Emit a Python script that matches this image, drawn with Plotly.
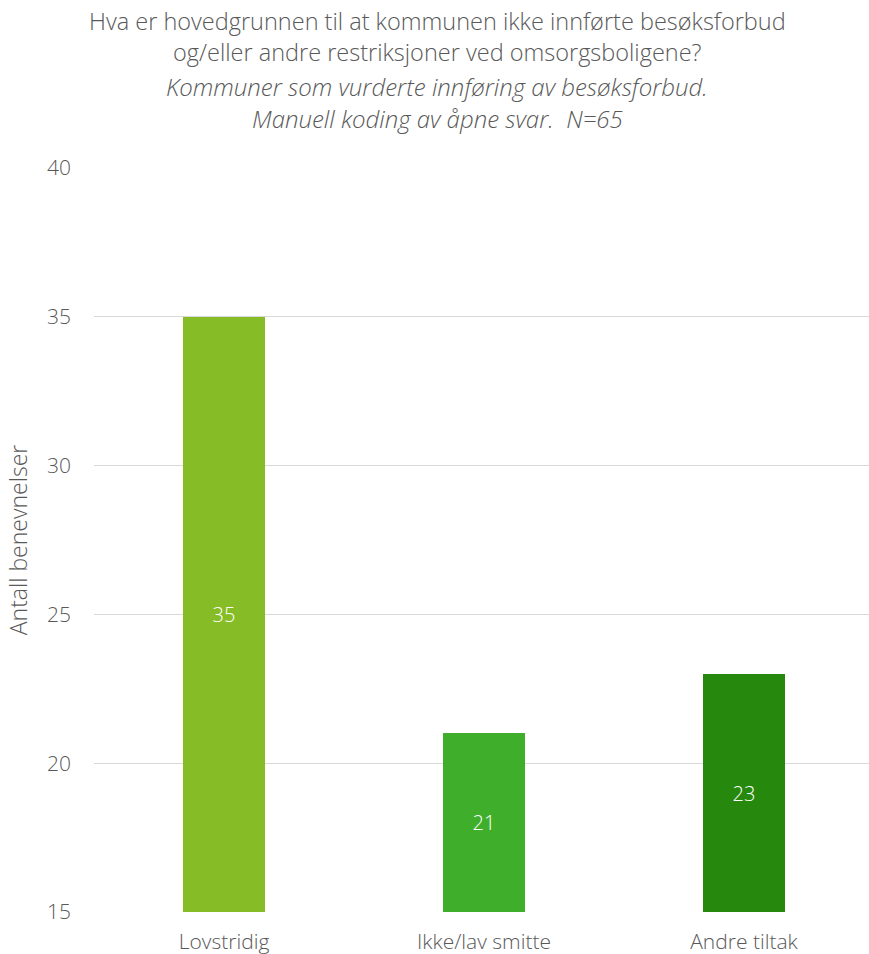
import plotly.graph_objects as go

categories = ["Lovstridig", "Ikke/lav smitte", "Andre tiltak"]
values = [35, 21, 23]
bar_colors = ["#86BC25", "#3FAE2A", "#26890D"]
title_lines = [
    "Hva er hovedgrunnen til at kommunen ikke innførte besøksforbud",
    "og/eller andre restriksjoner ved omsorgsboligene?",
    "<i>Kommuner som vurderte innføring av besøksforbud.</i>",
    "<i>Manuell koding av åpne svar.  N=65</i>",
]
y_ticks = [15, 20, 25, 30, 35, 40]
y_title = "Antall benevnelser"
axis_min, axis_max = 15, 40

FONT = "Open Sans"
WEIGHT = 300
GRAY = "#595959"

W, H = 869, 954
top, bottom, left = 168, 42, 94
plot_h = H - top - bottom

fig = go.Figure()
fig.add_trace(go.Bar(
    x=categories, y=[v - axis_min for v in values], base=axis_min,
    marker_color=bar_colors, marker_line_width=0,
    width=0.315, text=[str(v) for v in values], textposition="inside",
    insidetextanchor="middle", hoverinfo="skip",
    textfont=dict(color="white", size=20, family=FONT, weight=WEIGHT),
))

title_y_px = [21, 52, 86, 118]
title_sizes = [23.5, 23.5, 24, 24]
annotations = []
for line, ypx, fs in zip(title_lines, title_y_px, title_sizes):
    annotations.append(dict(
        text=line, xref="paper", yref="paper",
        x=(437 - left) / (W - left), y=(H - bottom - ypx) / plot_h,
        xanchor="center", yanchor="middle", showarrow=False,
        font=dict(family=FONT, size=fs, color=GRAY, weight=WEIGHT),
    ))

fig.update_layout(
    width=W, height=H,
    margin=dict(l=left, r=0, t=top, b=bottom, pad=0, autoexpand=False),
    plot_bgcolor="white", paper_bgcolor="white",
    showlegend=False, bargap=0,
    font=dict(family=FONT, color=GRAY, size=20, weight=WEIGHT),
    annotations=annotations,
    xaxis=dict(
        range=[-0.5, 2.4808], showgrid=False, showline=False, zeroline=False,
        ticks="", ticklabelstandoff=15, automargin=False,
        tickfont=dict(family=FONT, size=21, color=GRAY, weight=WEIGHT),
    ),
    yaxis=dict(
        range=[axis_min, axis_max], tickvals=y_ticks, showgrid=True, gridcolor="#D9D9D9",
        gridwidth=1.3, zeroline=False, showline=False, ticks="",
        ticklabelstandoff=22, automargin=False,
        tickfont=dict(family=FONT, size=21, color=GRAY, weight=WEIGHT),
        title=dict(text=y_title, font=dict(family=FONT, size=23, color=GRAY, weight=WEIGHT), standoff=12),
    ),
)
fig.write_html("out.html")
